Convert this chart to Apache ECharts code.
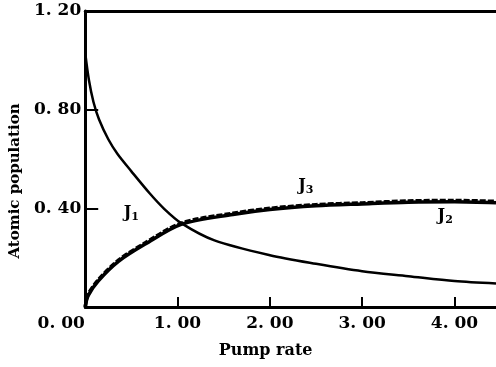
<!DOCTYPE html>
<html>
<head>
<meta charset="utf-8">
<script src="https://cdn.jsdelivr.net/npm/echarts@6/dist/echarts.min.js"></script>
<style>
  html, body { margin: 0; padding: 0; background: #fff; }
  #chart { width: 496px; height: 367px; }
</style>
</head>
<body>
<div id="chart"></div>
<script>
// values
const pumpJ1 = [0, 0.04, 0.09, 0.15, 0.25, 0.35, 0.5, 0.7, 0.85, 1.04, 1.4, 2.0, 2.5, 3.0, 3.5, 4.0, 4.45];
const j1 = [1.03, 0.92, 0.83, 0.76, 0.68, 0.62, 0.55, 0.46, 0.4, 0.34, 0.27, 0.21, 0.175, 0.145, 0.125, 0.105, 0.095];

const pumpJ23 = [0, 0.03, 0.14, 0.36, 0.65, 1.04, 1.6, 2.0, 2.5, 3.0, 3.5, 4.0, 4.45];
const j3 = [0, 0.05, 0.11, 0.19, 0.26, 0.34, 0.38, 0.4, 0.415, 0.422, 0.43, 0.432, 0.428];
const j2 = [0, 0.045, 0.105, 0.185, 0.255, 0.335, 0.375, 0.395, 0.41, 0.418, 0.425, 0.427, 0.423];

const curveLabels = [
  { name: "1", at: [0.5, 0.38] },
  { name: "3", at: [2.39, 0.49] },
  { name: "2", at: [3.9, 0.37] }
];

const font = "DejaVu Serif";
const pairs = (xs, ys) => xs.map((x, i) => [x, ys[i]]);

const chart = echarts.init(document.getElementById("chart"));

chart.setOption({
  animation: false,
  grid: { left: 83, right: 0, top: 11, bottom: 60 },
  xAxis: [
    {
      type: "value",
      min: 0,
      max: 4.45,
      interval: 1,
      name: "Pump rate",
      nameLocation: "middle",
      nameGap: 36,
      nameTextStyle: { fontFamily: font, fontSize: 16, fontWeight: "bold", color: "#000", padding: [0, 50, 0, 0] },
      axisLine: { lineStyle: { color: "#000", width: 3 } },
      axisTick: { inside: true, length: 10, lineStyle: { color: "#000", width: 2 } },
      splitLine: { show: false },
      axisLabel: {
        showMaxLabel: false,
        margin: 8,
        fontFamily: font,
        fontSize: 17,
        fontWeight: "bold",
        color: "#000",
        formatter: (v) => {
          const s = v.toFixed(2).replace(".", ". ");
          return v === 0 ? "{o|" + s + "}" : s;
        },
        rich: { o: { fontFamily: font, fontSize: 17, fontWeight: "bold", color: "#000", padding: [0, 48, 0, 0] } }
      }
    },
    {
      type: "value",
      position: "top",
      min: 0,
      max: 4.45,
      axisLine: { lineStyle: { color: "#000", width: 3 } },
      axisTick: { show: false },
      axisLabel: { show: false },
      splitLine: { show: false }
    }
  ],
  yAxis: {
    type: "value",
    min: 0,
    max: 1.2,
    interval: 0.4,
    name: "Atomic population",
    nameLocation: "middle",
    nameGap: 60,
    nameTextStyle: { fontFamily: font, fontSize: 15, fontWeight: "bold", color: "#000", padding: [0, 44, 0, 0] },
    axisLine: { show: true, lineStyle: { color: "#000", width: 3 } },
    axisTick: { inside: true, length: 13, lineStyle: { color: "#000", width: 2 } },
    splitLine: { show: false },
    axisLabel: {
      showMinLabel: false,
      margin: 4,
      fontFamily: font,
      fontSize: 17,
      fontWeight: "bold",
      color: "#000",
      padding: [8, 0, 0, 0],
      formatter: (v) => v.toFixed(2).replace(".", ". ")
    }
  },
  series: [
    {
      name: "J1",
      type: "line",
      smooth: 0.3,
      showSymbol: false,
      lineStyle: { color: "#000", width: 2.5 },
      data: pairs(pumpJ1, j1),
      markPoint: {
        symbol: "circle",
        symbolSize: 0,
        data: curveLabels.map((l) => ({ coord: l.at })),
        label: {
          show: true,
          position: "inside",
          formatter: (p) => "{j|J}{s|" + curveLabels[p.dataIndex].name + "}",
          rich: {
            j: { fontFamily: font, fontSize: 16, fontWeight: "bold", color: "#000" },
            s: { fontFamily: font, fontSize: 11, fontWeight: "bold", color: "#000", padding: [8, 0, 0, 0] }
          }
        }
      }
    },
    {
      name: "J2",
      type: "line",
      smooth: 0.3,
      showSymbol: false,
      lineStyle: { color: "#000", width: 3.5 },
      data: pairs(pumpJ23, j2)
    },
    {
      name: "J3",
      type: "line",
      smooth: 0.3,
      showSymbol: false,
      lineStyle: { color: "#000", width: 3.5, type: [6, 2] },
      data: pairs(pumpJ23, j3)
    }
  ]
});
</script>
</body>
</html>
